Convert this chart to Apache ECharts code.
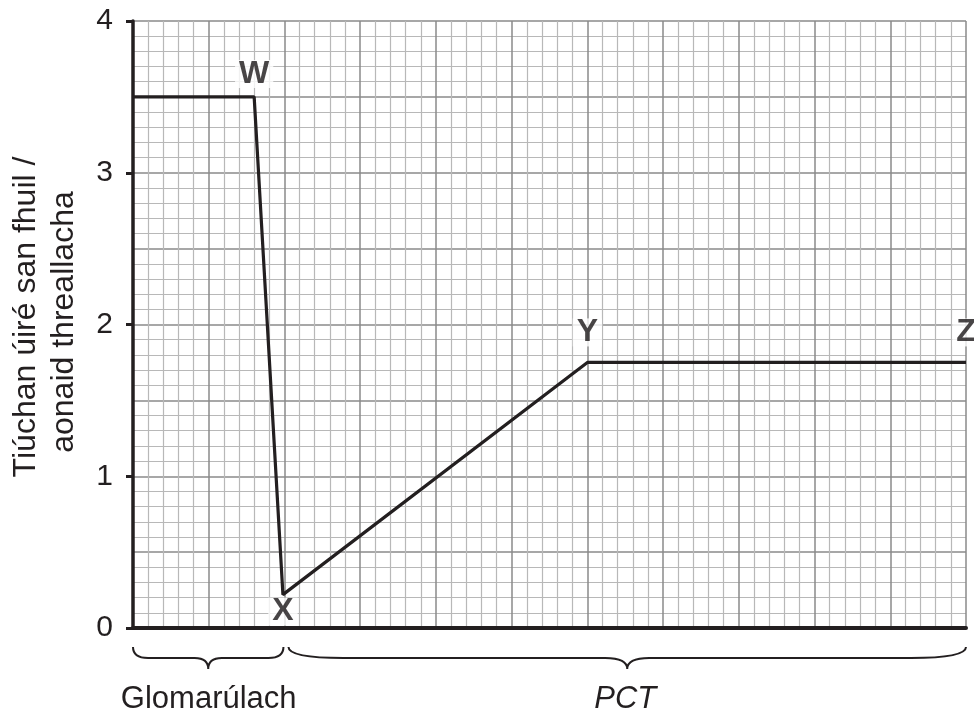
<!DOCTYPE html>
<html>
<head>
<meta charset="utf-8">
<script src="https://cdn.jsdelivr.net/npm/echarts@6/dist/echarts.min.js"></script>
<style>
  html, body { margin: 0; padding: 0; background: #fff; }
  #chart { width: 974px; height: 715px; }
</style>
</head>
<body>
<div id="chart"></div>
<script>
// curve points (x in grid units, y = concentration)
const curveX = [0, 1.6, 1.98, 6, 11];
const curveY = [3.5, 3.5, 0.22, 1.75, 1.75];

// lettered points on the curve
const pointNames = ["W", "X", "Y", "Z"];
const pointX = [1.6, 1.98, 6, 11];
const pointY = [3.5, 0.22, 1.75, 1.75];

// braces under the x axis
const braceNames = ["Glomarúlach", "PCT"];
const braceFrom = [0, 2];
const braceTo = [2, 11];

const yTicks = [0, 1, 2, 3, 4];
const yTitle = ["Tiúchan úiré san fhuil /", "aonaid threallacha"];

const FONT = "'Liberation Sans', Arial, Helvetica, sans-serif";
const INK = "#231f20";

const chart = echarts.init(document.getElementById("chart"));

// where each letter sits relative to its point
const labelPlace = {
  W: { position: "top", distance: 9 },
  X: { position: "bottom", distance: 3 },
  Y: { position: "top", distance: 16 },
  Z: { position: "top", distance: 16 },
};

const renderBrace = (params, api) => {
  const i = params.dataIndex;
  const p1 = api.coord([api.value(0), 0]);
  const p2 = api.coord([api.value(1), 0]);
  const x1 = p1[0] + (i > 0 ? 4 : 0);
  const x2 = p2[0] - (i === 0 ? 1 : 0);
  const y0 = p1[1];
  const w = x2 - x1;
  const mid = (x1 + x2) / 2;
  const r = Math.min(w * 0.1, 55);
  const rt = Math.min(w * 0.09, 22);
  const yTop = y0 + 19;
  const yMid = y0 + 30;
  const yTip = y0 + 41;
  const d =
    `M${x1},${yTop} Q${x1},${yMid} ${x1 + r},${yMid} L${mid - rt},${yMid} ` +
    `Q${mid},${yMid} ${mid},${yTip} Q${mid},${yMid} ${mid + rt},${yMid} ` +
    `L${x2 - r},${yMid} Q${x2},${yMid} ${x2},${yTop}`;
  return {
    type: "group",
    children: [
      {
        type: "path",
        shape: { pathData: d },
        style: { fill: "none", stroke: INK, lineWidth: 2 },
      },
      {
        type: "text",
        x: (p1[0] + p2[0]) / 2,
        y: y0 + 71,
        style: {
          text: braceNames[i],
          fill: INK,
          font: `${i === 1 ? "italic " : ""}31px ${FONT}`,
          align: "center",
          verticalAlign: "middle",
        },
      },
    ],
  };
};

const option = {
  animation: false,
  grid: { left: 133, right: 8, top: 21, bottom: 87, containLabel: false },
  xAxis: {
    type: "value",
    min: 0,
    max: 11,
    interval: 1,
    axisLine: { show: true, onZero: false, lineStyle: { color: INK, width: 4 } },
    axisTick: { show: false },
    axisLabel: { show: false },
    splitLine: { show: true, lineStyle: { color: "#8a8a8a", width: 1.5 } },
    minorTick: { show: false, splitNumber: 5 },
    minorSplitLine: { show: true, lineStyle: { color: "#b8b8b8", width: 1.2 } },
  },
  yAxis: [
    {
      // grid lines
      type: "value",
      min: 0,
      max: 4,
      interval: 0.5,
      axisLine: { show: true, lineStyle: { color: INK, width: 3.5 } },
      axisTick: { show: false },
      axisLabel: { show: false },
      splitLine: { show: true, lineStyle: { color: "#8a8a8a", width: 1.5 } },
      minorTick: { show: false, splitNumber: 5 },
      minorSplitLine: { show: true, lineStyle: { color: "#b8b8b8", width: 1.2 } },
    },
    {
      // ticks and labels
      type: "value",
      min: 0,
      max: 4,
      interval: 1,
      position: "left",
      axisLine: { show: false },
      axisTick: { show: true, length: 7, lineStyle: { color: INK, width: 3 } },
      axisLabel: {
        show: true,
        margin: 20,
        color: INK,
        fontSize: 30,
        fontFamily: FONT,
        formatter: (v) => (yTicks.includes(v) ? String(v) : ""),
      },
      splitLine: { show: false },
    },
  ],
  graphic: [
    {
      type: "text",
      x: 26,
      y: 317,
      rotation: Math.PI / 2,
      style: {
        text: yTitle[0],
        fill: INK,
        font: `32px ${FONT}`,
        align: "center",
        verticalAlign: "middle",
      },
    },
    {
      type: "text",
      x: 64,
      y: 322,
      rotation: Math.PI / 2,
      style: {
        text: yTitle[1],
        fill: INK,
        font: `32px ${FONT}`,
        align: "center",
        verticalAlign: "middle",
      },
    },
  ],
  series: [
    {
      type: "line",
      data: curveX.map((x, i) => [x, curveY[i]]),
      symbol: "none",
      lineStyle: { color: INK, width: 3.2 },
      z: 3,
    },
    {
      type: "scatter",
      data: pointNames.map((n, i) => ({
        name: n,
        value: [pointX[i], pointY[i]],
        label: labelPlace[n],
      })),
      symbolSize: 0,
      itemStyle: { color: INK },
      label: {
        show: true,
        formatter: "{b}",
        color: "#1a1718",
        fontSize: 32,
        fontWeight: "bold",
        fontFamily: FONT,
        lineHeight: 28,
        textBorderWidth: 0,
        backgroundColor: "#fff",
        padding: [0, 4],
      },
      z: 4,
    },
    {
      type: "custom",
      clip: false,
      data: braceNames.map((n, i) => [braceFrom[i], braceTo[i]]),
      renderItem: renderBrace,
      silent: true,
    },
  ],
};

chart.setOption(option);
</script>
</body>
</html>
